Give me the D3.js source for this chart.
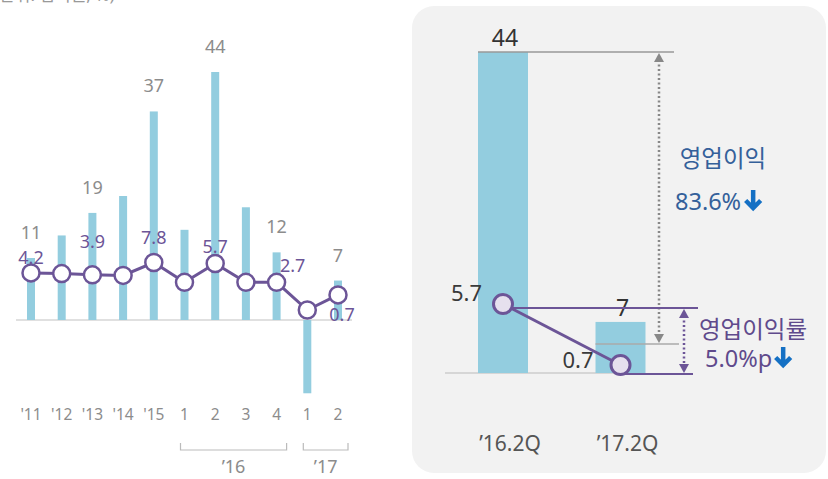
<!DOCTYPE html>
<html>
<head>
<meta charset="utf-8">
<script src="https://d3js.org/d3.v7.min.js"></script>
<style>
body { margin: 0; background: #fff; }
text { font-family: "Noto Sans", "Noto Sans CJK KR", sans-serif; }
</style>
</head>
<body>
<div id="container"></div>
<script>
// Left chart: yearly / quarterly operating profit (bars) and margin (line)
const periods = ["'11", "'12", "'13", "'14", "'15", "16Q1", "16Q2", "16Q3", "16Q4", "17Q1", "17Q2"];
const tickLabels = ["'11", "'12", "'13", "'14", "'15", "1", "2", "3", "4", "1", "2"];
const profit = [11, 15, 19, 22, 37, 16, 44, 20, 12, -13, 7];
const profitLabeled = [true, false, true, false, true, false, true, false, true, false, true];
const margin = [4.2, 4.1, 3.9, 3.8, 7.8, 2.7, 5.7, 2.7, 2.7, -1.7, 0.7];
const marginLabeled = [true, false, true, false, true, false, true, false, true, false, true];
const yearGroups = [
  {label: "\u201916", from: "16Q1", to: "16Q4"},
  {label: "\u201917", from: "17Q1", to: "17Q2"}
];

// Right panel: 2Q comparison
const cmpPeriods = ["\u201916.2Q", "\u201917.2Q"];
const cmpProfit = [44, 7];
const cmpMargin = [5.7, 0.7];
const profitChange = "83.6%";
const marginChange = "5.0%p";

const width = 828, height = 479;
const purple = "#6c5597", barColor = "#93cddf";

const svg = d3.create("svg").attr("width", width).attr("height", height);

// unit caption (cut off at top edge, as in the original)
svg.append("text").attr("x", -6).attr("y", 1)
  .attr("font-size", 17).attr("fill", "#999").text("(단위: 십억원, %)");

// ---------- left chart ----------
const x = d3.scalePoint().domain(periods).range([31, 338]);
const y = d3.scaleLinear().domain([0, 44]).range([320, 72]);
// margin line is drawn on its own (compressed) scale
const ym = d3.scaleLinear().domain([-1.7, 5.7, 7.8]).range([310, 263.5, 262.5]);
const barW = 8;

svg.append("line").attr("x1", 16).attr("x2", 352).attr("y1", y(0)).attr("y2", y(0))
  .attr("stroke", "#e0e0e0").attr("stroke-width", 2);

svg.append("g").selectAll("rect").data(periods).join("rect")
  .attr("x", d => x(d) - barW / 2)
  .attr("width", barW)
  .attr("y", (d, i) => Math.min(y(profit[i]), y(0)))
  .attr("height", (d, i) => Math.abs(y(profit[i]) - y(0)))
  .attr("fill", barColor);

svg.append("g").selectAll("text").data(periods.filter((d, i) => profitLabeled[i])).join("text")
  .attr("x", d => x(d))
  .attr("y", d => y(profit[periods.indexOf(d)]) - 19)
  .attr("text-anchor", "middle").attr("font-size", 18).attr("fill", "#8c8c8c")
  .text(d => profit[periods.indexOf(d)]);

const line = d3.line().x((d, i) => x(periods[i])).y(d => ym(d));
svg.append("path").attr("d", line(margin)).attr("fill", "none")
  .attr("stroke", purple).attr("stroke-width", 3);

svg.append("g").selectAll("circle").data(margin).join("circle")
  .attr("cx", (d, i) => x(periods[i])).attr("cy", d => ym(d)).attr("r", 8.5)
  .attr("fill", "#fff").attr("stroke", purple).attr("stroke-width", 2.5);

// label offsets [dx, dy] for the margin labels
const marginLabelOffset = {"'11": [0, -9], "'13": [0, -27], "'15": [0, -19], "16Q2": [0, -11], "16Q4": [16, -10], "17Q2": [4, 26]};
svg.append("g").selectAll("text").data(periods.filter((d, i) => marginLabeled[i])).join("text")
  .attr("x", d => x(d) + marginLabelOffset[d][0])
  .attr("y", d => ym(margin[periods.indexOf(d)]) + marginLabelOffset[d][1])
  .attr("text-anchor", "middle").attr("font-size", 18).attr("fill", purple)
  .text(d => margin[periods.indexOf(d)]);

svg.append("g").selectAll("text").data(periods).join("text")
  .attr("x", d => x(d)).attr("y", 420)
  .attr("text-anchor", "middle").attr("font-size", 15.5).attr("fill", "#8c8c8c")
  .text((d, i) => tickLabels[i]);

const grp = svg.append("g").selectAll("g").data(yearGroups).join("g");
grp.append("path")
  .attr("d", g => `M${x(g.from) - 4},443V450H${x(g.to) + 10}V443`)
  .attr("fill", "none").attr("stroke", "#bbb").attr("stroke-width", 1.2);
grp.append("text")
  .attr("x", g => (x(g.from) - 4 + x(g.to) + 10) / 2).attr("y", 473)
  .attr("text-anchor", "middle").attr("font-size", 18).attr("fill", "#8c8c8c")
  .text(g => g.label);

// ---------- right panel ----------
svg.append("rect").attr("x", 412).attr("y", 6).attr("width", 414).attr("height", 467)
  .attr("rx", 22).attr("fill", "#f2f2f2");

const xr = d3.scalePoint().domain(cmpPeriods).range([503, 620.5]);
const cmpBarW = 50;
const yr = d3.scaleLinear().domain([0, 44]).range([373, 52]);
const yrm = d3.scaleLinear().domain([0.7, 5.7]).range([365, 304]);

svg.append("line").attr("x1", 445).attr("x2", 645).attr("y1", yr(0)).attr("y2", yr(0))
  .attr("stroke", "#d6d6d6").attr("stroke-width", 2);

svg.append("g").selectAll("rect").data(cmpPeriods).join("rect")
  .attr("x", d => xr(d) - cmpBarW / 2).attr("width", cmpBarW)
  .attr("y", (d, i) => yr(cmpProfit[i])).attr("height", (d, i) => yr(0) - yr(cmpProfit[i]))
  .attr("fill", barColor);

svg.append("g").selectAll("text").data(cmpPeriods).join("text")
  .attr("x", d => xr(d) + 2).attr("y", (d, i) => yr(cmpProfit[i]) - 6)
  .attr("text-anchor", "middle").attr("font-size", 23).attr("fill", "#333")
  .text((d, i) => cmpProfit[i]);

svg.append("g").selectAll("text").data(cmpPeriods).join("text")
  .attr("x", d => xr(d) + 7).attr("y", 451)
  .attr("text-anchor", "middle").attr("font-size", 21).attr("fill", "#555")
  .text(d => d);

// reference lines for profit drop
const ax = 659, arrowEndY = 344;
svg.append("line").attr("x1", xr(cmpPeriods[0]) - cmpBarW / 2).attr("x2", 674)
  .attr("y1", yr(cmpProfit[0])).attr("y2", yr(cmpProfit[0])).attr("stroke", "#999").attr("stroke-width", 1.5);
svg.append("line").attr("x1", xr(cmpPeriods[1]) - cmpBarW / 2).attr("x2", 679)
  .attr("y1", arrowEndY).attr("y2", arrowEndY).attr("stroke", "#aaa").attr("stroke-width", 1.5);
svg.append("line").attr("x1", ax).attr("x2", ax).attr("y1", yr(cmpProfit[0]) + 8).attr("y2", arrowEndY - 8)
  .attr("stroke", "#888").attr("stroke-width", 2.5).attr("stroke-dasharray", "2,2.5");
svg.append("path").attr("d", `M${ax - 5},${yr(cmpProfit[0]) + 10}L${ax},${yr(cmpProfit[0]) + 1}L${ax + 5},${yr(cmpProfit[0]) + 10}Z`).attr("fill", "#888");
svg.append("path").attr("d", `M${ax - 5},${arrowEndY - 10}L${ax},${arrowEndY - 1}L${ax + 5},${arrowEndY - 10}Z`).attr("fill", "#888");

// margin lines
const topY = yrm(cmpMargin[0]) + 4, botY = yr(0) + 1, px = 684;
svg.append("line").attr("x1", xr(cmpPeriods[0])).attr("x2", 698).attr("y1", topY).attr("y2", topY)
  .attr("stroke", purple).attr("stroke-width", 2);
svg.append("line").attr("x1", xr(cmpPeriods[1])).attr("x2", 693).attr("y1", botY).attr("y2", botY)
  .attr("stroke", purple).attr("stroke-width", 2);
svg.append("line").attr("x1", px).attr("x2", px).attr("y1", topY + 8).attr("y2", botY - 8)
  .attr("stroke", purple).attr("stroke-width", 2.5).attr("stroke-dasharray", "2,2.5");
svg.append("path").attr("d", `M${px - 5},${topY + 10}L${px},${topY + 1}L${px + 5},${topY + 10}Z`).attr("fill", purple);
svg.append("path").attr("d", `M${px - 5},${botY - 10}L${px},${botY - 1}L${px + 5},${botY - 10}Z`).attr("fill", purple);

svg.append("path").attr("d", d3.line().x((d, i) => xr(cmpPeriods[i])).y(d => yrm(d))(cmpMargin))
  .attr("stroke", purple).attr("stroke-width", 3).attr("fill", "none");
svg.append("g").selectAll("circle").data(cmpMargin).join("circle")
  .attr("cx", (d, i) => xr(cmpPeriods[i])).attr("cy", d => yrm(d)).attr("r", 9.5)
  .attr("fill", "#e6e0ee").attr("stroke", purple).attr("stroke-width", 3);
svg.append("g").selectAll("text").data(cmpMargin).join("text")
  .attr("x", (d, i) => xr(cmpPeriods[i]) - (i === 0 ? 21 : 27))
  .attr("y", (d, i) => yrm(d) + (i === 0 ? -3 : 3))
  .attr("text-anchor", "end").attr("font-size", 22).attr("fill", "#3a3a3a")
  .text(d => d);

// down arrow icon
function downArrow(x0, y0, color) {
  svg.append("path").attr("d", `M${x0},${y0}V${y0 + 18}M${x0 - 7.5},${y0 + 10.5}L${x0},${y0 + 18}L${x0 + 7.5},${y0 + 10.5}`)
    .attr("fill", "none").attr("stroke", color).attr("stroke-width", 4.5).attr("stroke-linejoin", "miter");
}

const blueText = "#34609a", blueArrow = "#1470c4";
svg.append("text").attr("x", 723).attr("y", 167).attr("text-anchor", "middle")
  .attr("font-size", 23.5).attr("fill", blueText).text("영업이익");
const pc = svg.append("text").attr("x", 675).attr("y", 210)
  .attr("font-size", 23.5).attr("fill", blueText).text(profitChange);

const purpleText = "#5f4a8c";
svg.append("text").attr("x", 753).attr("y", 338).attr("text-anchor", "middle")
  .attr("font-size", 23.5).attr("fill", purpleText).text("영업이익률");
const mc = svg.append("text").attr("x", 705).attr("y", 367)
  .attr("font-size", 23.5).attr("fill", purpleText).text(marginChange);

// svg must be in the document before text can be measured
document.getElementById("container").append(svg.node());
downArrow(675 + pc.node().getComputedTextLength() + 12, 190, blueArrow);
downArrow(705 + mc.node().getComputedTextLength() + 11, 347, blueArrow);
</script>
</body>
</html>
